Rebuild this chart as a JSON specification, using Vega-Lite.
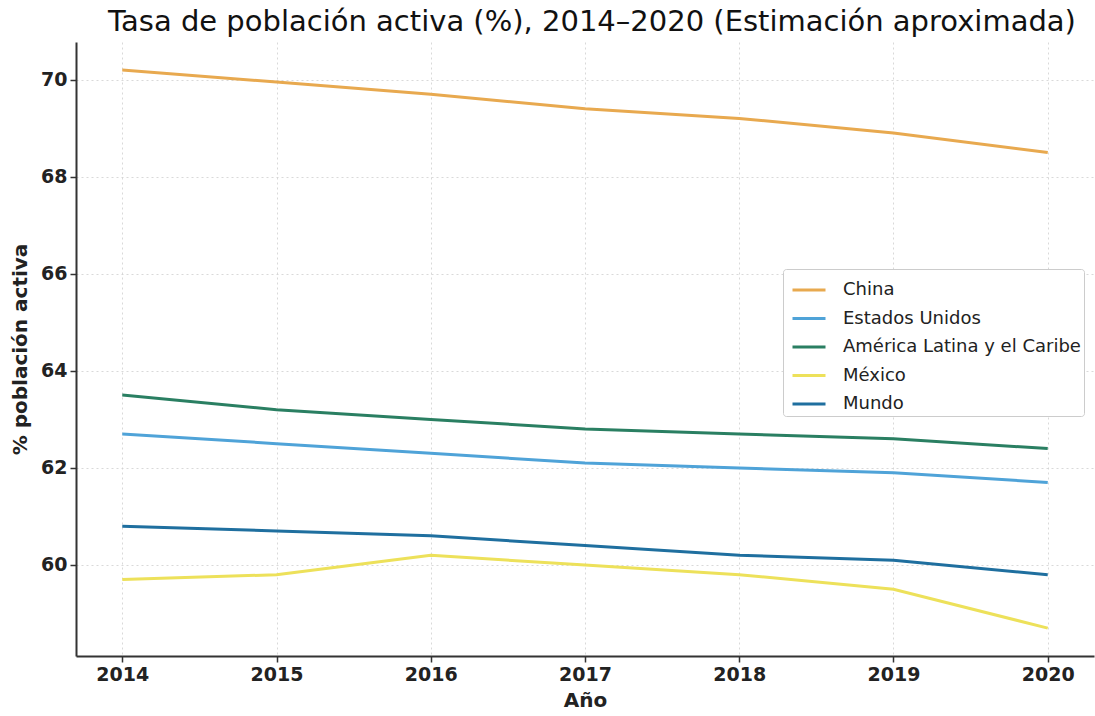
{
  "$schema": "https://vega.github.io/schema/vega-lite/v6.json",
  "autosize": "none",
  "width": 1018,
  "height": 614,
  "padding": {"left": 76, "top": 42, "right": 1, "bottom": 60},
  "background": "white",
  "title": {"text": "Tasa de población activa (%), 2014–2020 (Estimación aproximada)", "font": "DejaVu Sans", "fontSize": 29, "fontWeight": "normal", "color": "#111", "anchor": "middle", "offset": 5, "dx": 7},
  "config": {
    "view": {"stroke": null},
    "font": "DejaVu Sans",
    "axis": {"labelFont": "DejaVu Sans", "titleFont": "DejaVu Sans", "labelFontSize": 19, "labelFontWeight": "bold", "titleFontSize": 20, "titleFontWeight": "bold", "labelColor": "#222", "titleColor": "#222", "gridColor": "#d0d0d0", "gridDash": [2, 3], "gridOpacity": 0.8, "domainColor": "#333", "domainWidth": 2, "tickColor": "#333", "tickWidth": 1.5, "tickSize": 6}
  },
  "data": {"values": [
    {"year": 2014, "region": "China", "v": 70.2},
    {"year": 2015, "region": "China", "v": 69.95},
    {"year": 2016, "region": "China", "v": 69.7},
    {"year": 2017, "region": "China", "v": 69.4},
    {"year": 2018, "region": "China", "v": 69.2},
    {"year": 2019, "region": "China", "v": 68.9},
    {"year": 2020, "region": "China", "v": 68.5},
    {"year": 2014, "region": "Estados Unidos", "v": 62.7},
    {"year": 2015, "region": "Estados Unidos", "v": 62.5},
    {"year": 2016, "region": "Estados Unidos", "v": 62.3},
    {"year": 2017, "region": "Estados Unidos", "v": 62.1},
    {"year": 2018, "region": "Estados Unidos", "v": 62.0},
    {"year": 2019, "region": "Estados Unidos", "v": 61.9},
    {"year": 2020, "region": "Estados Unidos", "v": 61.7},
    {"year": 2014, "region": "América Latina y el Caribe", "v": 63.5},
    {"year": 2015, "region": "América Latina y el Caribe", "v": 63.2},
    {"year": 2016, "region": "América Latina y el Caribe", "v": 63.0},
    {"year": 2017, "region": "América Latina y el Caribe", "v": 62.8},
    {"year": 2018, "region": "América Latina y el Caribe", "v": 62.7},
    {"year": 2019, "region": "América Latina y el Caribe", "v": 62.6},
    {"year": 2020, "region": "América Latina y el Caribe", "v": 62.4},
    {"year": 2014, "region": "México", "v": 59.7},
    {"year": 2015, "region": "México", "v": 59.8},
    {"year": 2016, "region": "México", "v": 60.2},
    {"year": 2017, "region": "México", "v": 60.0},
    {"year": 2018, "region": "México", "v": 59.8},
    {"year": 2019, "region": "México", "v": 59.5},
    {"year": 2020, "region": "México", "v": 58.7},
    {"year": 2014, "region": "Mundo", "v": 60.8},
    {"year": 2015, "region": "Mundo", "v": 60.7},
    {"year": 2016, "region": "Mundo", "v": 60.6},
    {"year": 2017, "region": "Mundo", "v": 60.4},
    {"year": 2018, "region": "Mundo", "v": 60.2},
    {"year": 2019, "region": "Mundo", "v": 60.1},
    {"year": 2020, "region": "Mundo", "v": 59.8}
  ]},
  "mark": {"type": "line", "strokeWidth": 3},
  "encoding": {
    "x": {"field": "year", "type": "quantitative", "title": "Año", "scale": {"domain": [2013.7, 2020.3], "nice": false, "zero": false}, "axis": {"values": [2014, 2015, 2016, 2017, 2018, 2019, 2020], "format": "d", "labelPadding": 3, "titlePadding": 6}},
    "y": {"field": "v", "type": "quantitative", "title": "% población activa", "scale": {"domain": [58.125, 70.775], "nice": false, "zero": false}, "axis": {"values": [60, 62, 64, 66, 68, 70], "labelPadding": 3, "titlePadding": 10}},
    "color": {"field": "region", "type": "nominal", "sort": ["China", "Estados Unidos", "América Latina y el Caribe", "México", "Mundo"],
      "scale": {"domain": ["China", "Estados Unidos", "América Latina y el Caribe", "México", "Mundo"], "range": ["#E8A94F", "#4FA3D8", "#2A7F62", "#EDE15A", "#1F6F9F"]},
      "legend": {"title": null, "orient": "none", "legendX": 707, "legendY": 227, "symbolType": "stroke", "symbolStrokeWidth": 3, "symbolSize": 1089, "symbolOffset": 5, "labelOffset": 16, "labelFontSize": 18, "labelColor": "#222", "rowPadding": 1.5, "padding": 3, "strokeColor": "#cccccc", "fillColor": "white", "cornerRadius": 3, "labelLimit": 400}
    }
  }
}
